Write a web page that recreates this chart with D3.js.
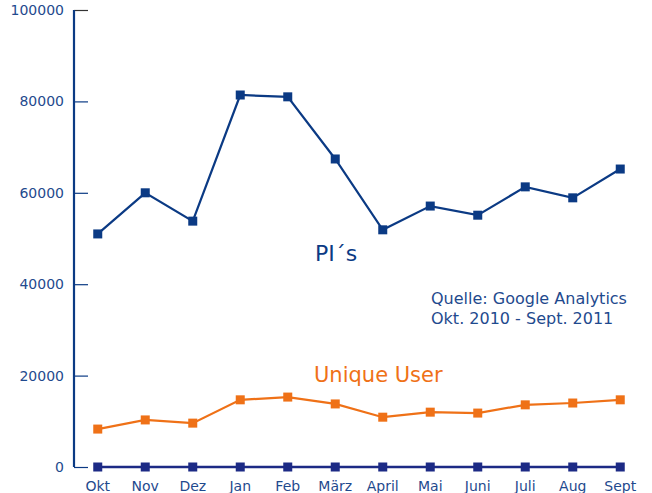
<!DOCTYPE html>
<html>
<head>
<meta charset="utf-8">
<script src="https://cdn.jsdelivr.net/npm/d3@7"></script>
<style>
  body { margin: 0; background: #fff; }
  text { font-family: "DejaVu Sans", Verdana, sans-serif; }
</style>
</head>
<body>
<script>
(function() {

var months = ["Okt", "Nov", "Dez", "Jan", "Feb", "März", "April", "Mai", "Juni", "Juli", "Aug", "Sept"];
var pis = [51000, 60000, 53800, 81400, 81000, 67400, 51900, 57100, 55100, 61300, 58900, 65200];
var users = [8300, 10300, 9600, 14700, 15300, 13800, 10900, 12000, 11800, 13600, 14000, 14700];
var base = [0, 0, 0, 0, 0, 0, 0, 0, 0, 0, 0, 0];
var yTicks = [0, 20000, 40000, 60000, 80000, 100000];

var width = 652, height = 493,
    left = 74, right = 644, top = 10, bottom = 467,
    blue = "#0b3a84", orange = "#ef7117", navy = "#1c2a85", txt = "#1f4a8e";

var svg = d3.select("body").append("svg")
  .attr("width", width)
  .attr("height", height);

var x = d3.scaleBand().domain(months).range([left, right]);
var y = d3.scaleLinear().domain([0, 100000]).range([bottom, top]);

// y axis: ticks point into the plot
var yAxis = svg.append("g")
  .attr("transform", "translate(" + left + ",0)")
  .call(d3.axisRight(y).tickValues(yTicks).tickSize(14).tickFormat(""));
yAxis.select(".domain").remove();
yAxis.selectAll(".tick line")
  .attr("stroke", function(d) { return d === 100000 ? "#333" : blue; })
  .attr("stroke-width", 1.2);

svg.append("line")
  .attr("x1", left).attr("x2", left)
  .attr("y1", y(100000)).attr("y2", bottom)
  .attr("stroke", blue).attr("stroke-width", 2.2);

svg.selectAll(".ylab")
  .data(yTicks)
  .enter().append("text")
    .attr("x", 64)
    .attr("y", function(d) { return y(d) + 5; })
    .attr("text-anchor", "end")
    .attr("font-size", 14)
    .attr("fill", txt)
    .text(function(d) { return d; });

// x axis labels
svg.selectAll(".xlab")
  .data(months)
  .enter().append("text")
    .attr("x", function(d) { return x(d) + x.bandwidth() / 2; })
    .attr("y", 491)
    .attr("text-anchor", "middle")
    .attr("font-size", 14)
    .attr("fill", txt)
    .text(function(d) { return d; });

function series(vals, color, width) {
  var line = d3.line()
    .x(function(d, i) { return x(months[i]) + x.bandwidth() / 2; })
    .y(function(d) { return y(d); });

  svg.append("path")
    .datum(vals)
    .attr("d", line)
    .attr("fill", "none")
    .attr("stroke", color)
    .attr("stroke-width", width);

  svg.selectAll(null)
    .data(vals)
    .enter().append("rect")
      .attr("x", function(d, i) { return x(months[i]) + x.bandwidth() / 2 - 4.5; })
      .attr("y", function(d) { return y(d) - 4.5; })
      .attr("width", 9)
      .attr("height", 9)
      .attr("fill", color);
}

series(base, navy, 2.5);
series(users, orange, 2.2);
series(pis, blue, 2.2);

svg.append("text")
  .attr("x", 315).attr("y", 261)
  .attr("font-size", 22)
  .attr("fill", blue)
  .text("PI´s");

svg.append("text")
  .attr("x", 314).attr("y", 382)
  .attr("font-size", 21)
  .attr("fill", orange)
  .text("Unique User");

svg.append("text")
  .attr("x", 431).attr("y", 304)
  .attr("font-size", 16)
  .attr("fill", txt)
  .text("Quelle: Google Analytics");

svg.append("text")
  .attr("x", 431).attr("y", 324)
  .attr("font-size", 16)
  .attr("fill", txt)
  .text("Okt. 2010 - Sept. 2011");

})();
</script>
</body>
</html>
